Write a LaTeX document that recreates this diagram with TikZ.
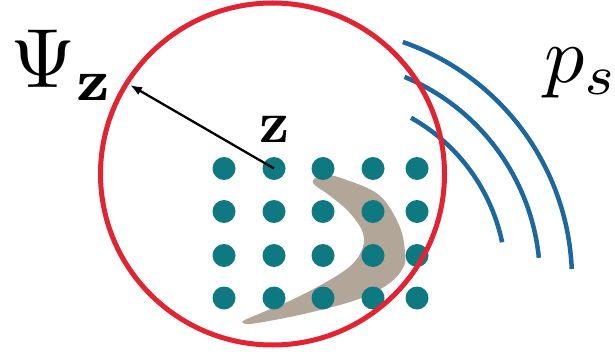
\documentclass[tikz,border=0pt]{standalone}
\usetikzlibrary{arrows.meta,shapes.geometric}
\definecolor{ringred}{RGB}{226,35,50}
\definecolor{arcblue}{RGB}{27,103,158}
\definecolor{dotteal}{RGB}{14,121,128}
\definecolor{boomtan}{RGB}{178,166,152}
\tikzset{
  dotst/.style={circle,fill=dotteal,draw=none,minimum size=23pt,inner sep=0pt},
  ringst/.style={ellipse,draw=ringred,line width=5pt,minimum width=344pt,minimum height=342pt,inner sep=0pt},
  arcst/.style={draw=arcblue,line width=4.5pt},
  arrowst/.style={line width=2.3pt,-{Latex[length=12pt,width=9pt]}},
  lab/.style={inner sep=0pt,anchor=base west}
}
\begin{document}
\begin{tikzpicture}[x=1pt,y=1pt]
\useasboundingbox (0,0) rectangle (615,-358);
% boomerang
\fill[boomtan] plot[smooth cycle, tension=0.6] coordinates {
 (313,-180) (325,-175) (344,-179) (379,-195) (399,-225) (405,-252) (403,-268)
 (387,-285) (356,-300) (308,-313) (269,-321) (248,-324) (243,-321) (261,-313)
 (300,-296) (344,-271) (361,-252) (363,-233) (349,-212) (329,-195) (316,-186)};
% dots
\foreach \r/\yy in {1/168.5,2/211.5,3/255.5,4/298}
  \foreach \c/\xx in {1/224,2/274,3/323,4/373,5/417}
    \node[dotst] (d-\r-\c) at (\xx,-\yy) {};
% blue arcs
\coordinate (ac) at (320,-280);
\draw[arcst] (ac) ++(70.8:252) arc[start angle=70.8,end angle=2.5,radius=252];
\draw[arcst] (ac) ++(67.4:220) arc[start angle=67.4,end angle=5.8,radius=220];
\draw[arcst] (ac) ++(60.7:186) arc[start angle=60.7,end angle=11.7,radius=186];
% ring
\node[ringst] (ring) at (272.5,-174) {};
% arrow
\coordinate (tip) at (130,-85);
\draw[arrowst] (d-1-2.center) -- (tip);
% labels
\node[lab,scale=8.4] (psi) at (9,-88) {$\Psi_{\mathbf{z}}$};
\node[lab,scale=5.9] (zl) at (258,-143) {$\mathbf{z}$};
\node[lab,scale=8] (ps) at (543,-82.5) {$p_s$};
\end{tikzpicture}
\end{document}
